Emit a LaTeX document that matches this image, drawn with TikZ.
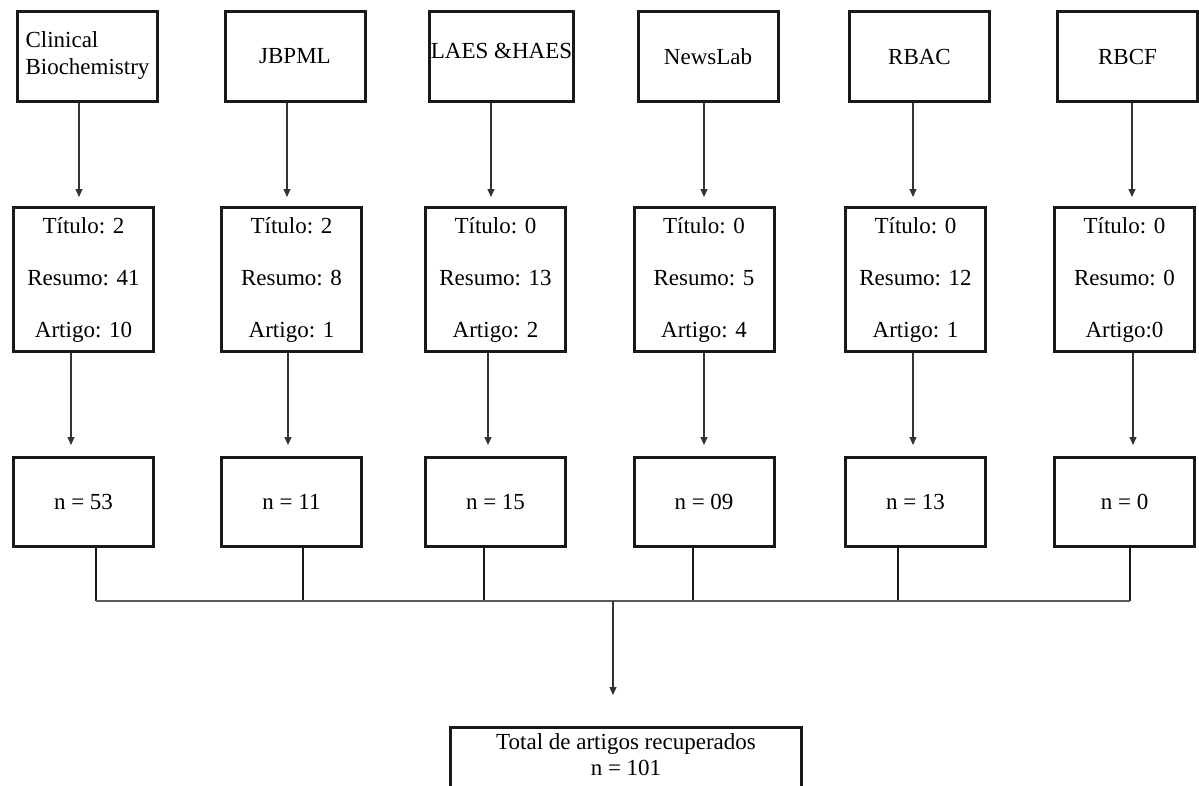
\documentclass[tikz,border=0pt]{standalone}
\usepackage{fontspec}
\setmainfont{Liberation Serif}
\usetikzlibrary{arrows.meta}
\tikzstyle{journalBox}=[draw=black!90, line width=3pt, minimum width=140pt, minimum height=90pt, inner sep=1pt]
\tikzstyle{hitsBox}=[journalBox, minimum height=144pt, align=center, font=\fontsize{23}{52}\selectfont]
\tikzstyle{countBox}=[journalBox, minimum height=89pt]
\tikzstyle{totalBox}=[journalBox, minimum width=351pt, inner sep=6pt, align=center, text depth=40pt, anchor=north, font=\fontsize{23}{26}\selectfont]
\tikzstyle{flowArrow}=[-{Triangle[length=8pt,width=7pt]}, line width=1.1pt, draw=black!80]
\tikzstyle{stem}=[line width=2.5pt, draw=black!90]
\tikzstyle{rail}=[line width=1.2pt, draw=black!65]

\begin{document}
\begin{tikzpicture}[x=1pt, y=-1pt, font=\fontsize{23}{27}\selectfont]
    \clip (0, 0) rectangle (1199, 785);

    \node[journalBox, align=left, text depth=6pt] (t1) at (87.5, 56.5) {Clinical\\Biochemistry};
    \node[journalBox] (t2) at (295, 56.5) {JBPML};
    \node[journalBox, text depth=12pt] (t3) at (501.5, 56.5) {LAES \&HAES};
    \node[journalBox] (t4) at (708, 56.5) {NewsLab};
    \node[journalBox] (t5) at (919.5, 56.5) {RBAC};
    \node[journalBox] (t6) at (1127.5, 56.5) {RBCF};

    \node[hitsBox] (m1) at (83.5, 279.5) {Título: 2\\Resumo: 41\\Artigo: 10};
    \node[hitsBox] (m2) at (291.5, 279.5) {Título: 2\\Resumo: 8\\Artigo: 1};
    \node[hitsBox] (m3) at (495.5, 279.5) {Título: 0\\Resumo: 13\\Artigo: 2};
    \node[hitsBox] (m4) at (704, 279.5) {Título: 0\\Resumo: 5\\Artigo: 4};
    \node[hitsBox] (m5) at (915.5, 279.5) {Título: 0\\Resumo: 12\\Artigo: 1};
    \node[hitsBox] (m6) at (1124.5, 279.5) {Título: 0\\Resumo: 0\\Artigo:0};

    \node[countBox] (l1) at (83.5, 502) {n = 53};
    \node[countBox] (l2) at (291.5, 502) {n = 11};
    \node[countBox] (l3) at (495.5, 502) {n = 15};
    \node[countBox] (l4) at (704, 502) {n = 09};
    \node[countBox] (l5) at (915.5, 502) {n = 13};
    \node[countBox] (l6) at (1124.5, 502) {n = 0};

    \node[totalBox] (total) at (626, 726) {Total de artigos recuperados\\n = 101};

    % journal -> hits
    \draw[flowArrow, shorten >=9pt] ([xshift=-8.5pt]t1.south) -- ([xshift=-4.5pt]m1.north);
    \draw[flowArrow, shorten >=9pt] ([xshift=-8pt]t2.south) -- ([xshift=-4.5pt]m2.north);
    \draw[flowArrow, shorten >=9pt] ([xshift=-10.5pt]t3.south) -- ([xshift=-4.5pt]m3.north);
    \draw[flowArrow, shorten >=9pt] ([xshift=-4pt]t4.south) -- (m4.north);
    \draw[flowArrow, shorten >=9pt] ([xshift=-6.5pt]t5.south) -- ([xshift=-2.5pt]m5.north);
    \draw[flowArrow, shorten >=9pt] ([xshift=4.5pt]t6.south) -- ([xshift=7.5pt]m6.north);

    % hits -> count
    \draw[flowArrow, shorten >=11pt] ([xshift=-12.5pt]m1.south) -- ([xshift=-12.5pt]l1.north);
    \draw[flowArrow, shorten >=11pt] ([xshift=-3.5pt]m2.south) -- ([xshift=-3.5pt]l2.north);
    \draw[flowArrow, shorten >=11pt] ([xshift=-7.5pt]m3.south) -- ([xshift=-7.5pt]l3.north);
    \draw[flowArrow, shorten >=11pt] (m4.south) -- (l4.north);
    \draw[flowArrow, shorten >=11pt] ([xshift=-2.5pt]m5.south) -- ([xshift=-2.5pt]l5.north);
    \draw[flowArrow, shorten >=11pt] ([xshift=8.5pt]m6.south) -- ([xshift=8.5pt]l6.north);

    \coordinate (j1) at (96, 601);
    \coordinate (j2) at (303, 601);
    \coordinate (j3) at (484, 601);
    \coordinate (j4) at (693, 601);
    \coordinate (j5) at (898, 601);
    \coordinate (j6) at (1130, 601);
    \coordinate (hub) at (613, 601);

    \draw[stem] (l1.south -| j1) -- (j1);
    \draw[stem] (l2.south -| j2) -- (j2);
    \draw[stem] (l3.south -| j3) -- (j3);
    \draw[stem] (l4.south -| j4) -- (j4);
    \draw[stem] (l5.south -| j5) -- (j5);
    \draw[stem] (l6.south -| j6) -- (j6);
    \draw[rail] (j1) -- (j6);

    \draw[flowArrow, shorten >=31pt] (hub) -- (total.north -| hub);

\end{tikzpicture}
\end{document}
